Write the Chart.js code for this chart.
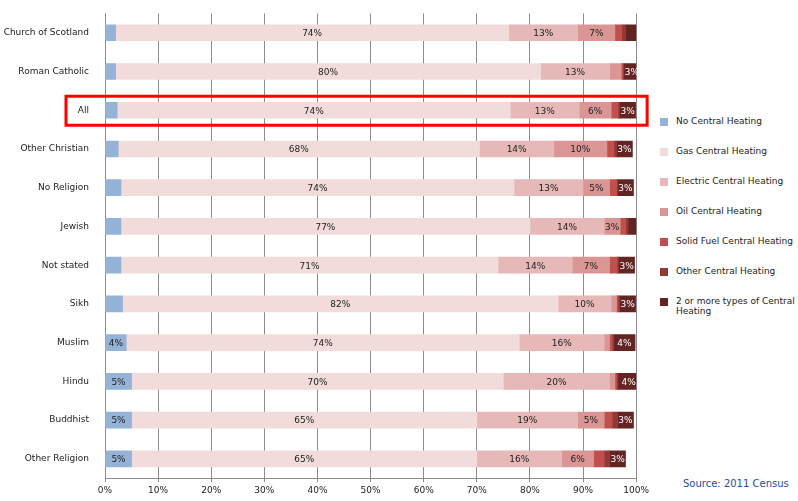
<!DOCTYPE html>
<html>
<head>
<meta charset="utf-8">
<script src="https://cdn.jsdelivr.net/npm/chart.js@4"></script>
<style>
  body { margin: 0; background: #fff; font-family: "DejaVu Sans", sans-serif; }
  #wrap { position: relative; width: 798px; height: 501px; }
  #c { position: absolute; left: 0; top: 0; }
  #legend { position: absolute; left: 660px; top: 116px; font-size: 9px; color: #222; }
  .item { display: flex; align-items: flex-start; height: 30px; }
  .box { width: 8px; height: 8px; margin: 2px 8px 0 0; flex: none; }
  #source { position: absolute; left: 683px; top: 478px; font-size: 10px; color: #1f4e9a; }
</style>
</head>
<body>
<div id="wrap">
  <canvas id="c" width="652" height="501"></canvas>
  <div id="legend"></div>
  <div id="source">Source: 2011 Census</div>
</div>
<script>
// --- dados ---
const categories = ['Church of Scotland', 'Roman Catholic', 'All', 'Other Christian', 'No Religion', 'Jewish',
    'Not stated', 'Sikh', 'Muslim', 'Hindu', 'Buddhist', 'Other Religion'];
const seriesNames = ['No Central Heating', 'Gas Central Heating', 'Electric Central Heating', 'Oil Central Heating',
    'Solid Fuel Central Heating', 'Other Central Heating', '2 or more types of Central Heating'];
const seriesColors = ['#95b3d7', '#f2dcdb', '#e6b9b8', '#d99694', '#c0504d', '#953735', '#632523'];

const noHeating    = [2, 2, 2.3, 2.5, 3, 3, 3, 3.3, 4, 5, 5, 5];
const gasHeating   = [74, 80, 74, 68, 74, 77, 71, 82, 74, 70, 65, 65];
const elecHeating  = [13, 13, 13, 14, 13, 14, 14, 10, 16, 20, 19, 16];
const oilHeating   = [7, 2.2, 6, 10, 5, 3, 7, 1, 1, 1, 5, 6];
const solidHeating = [1.3, 0.3, 1.3, 1.3, 1.3, 1, 1.4, 0.3, 0.5, 0.3, 1.5, 2];
const otherHeating = [0.7, 0.2, 0.3, 0.5, 0.2, 0.5, 0.3, 0.3, 0.3, 0.3, 1, 1];
const multiHeating = [2.2, 3, 3, 3, 3, 2.5, 3, 3, 4, 4, 3, 3];
const seriesValues = [noHeating, gasHeating, elecHeating, oilHeating, solidHeating, otherHeating, multiHeating];
const xTicks = [0, 10, 20, 30, 40, 50, 60, 70, 80, 90, 100];

// legenda em HTML (o último item quebra linha)
document.getElementById('legend').innerHTML = seriesNames.map((n, i) =>
    `<div class="item"><div class="box" style="background:${seriesColors[i]}"></div><div style="width:128px">${n}</div></div>`).join('');

const labelsPlugin = {
    id: 'barLabels',
    afterDatasetsDraw(chart) {
        const ctx = chart.ctx;
        ctx.save();
        ctx.font = '9px "DejaVu Sans"';
        ctx.textAlign = 'center';
        ctx.textBaseline = 'middle';
        chart.data.datasets.forEach((ds, di) => {
            chart.getDatasetMeta(di).data.forEach((bar, i) => {
                const v = ds.data[i];
                const min = di === 0 ? 4 : 2.8;
                if (v < min) return;
                ctx.fillStyle = di === 6 ? '#fff' : '#222';
                ctx.fillText(Math.round(v) + '%', (bar.x + bar.base) / 2, bar.y + 1);
            });
        });
        // caixa vermelha em volta de "All"
        const y = chart.scales.y.getPixelForValue(2);
        const a = chart.chartArea;
        ctx.strokeStyle = '#ff0000';
        ctx.lineWidth = 3;
        ctx.strokeRect(a.left - 39, y - 14, a.right - a.left + 50, 29);
        ctx.restore();
    }
};

new Chart(document.getElementById('c'), {
    type: 'bar',
    data: {
        labels: categories,
        datasets: seriesValues.map((d, i) => ({
            label: seriesNames[i], data: d, backgroundColor: seriesColors[i], barThickness: 16
        }))
    },
    options: {
        indexAxis: 'y', responsive: false, animation: false,
        layout: { padding: { top: 0, right: 12, left: 0, bottom: 2 } },
        plugins: { legend: { display: false }, tooltip: { enabled: false } },
        scales: {
            x: {
                stacked: true, min: 0, max: 100,
                afterBuildTicks: (s) => { s.ticks = xTicks.map(v => ({ value: v })); },
                ticks: { callback: v => v + '%', font: { size: 9, family: 'DejaVu Sans' }, color: '#222' },
                grid: { color: '#8c8c8c', drawTicks: true, tickLength: 4 },
                border: { color: '#8c8c8c' }
            },
            y: {
                stacked: true,
                ticks: { font: { size: 9, family: 'DejaVu Sans' }, color: '#222', padding: 8 },
                grid: { display: false },
                border: { color: '#8c8c8c' },
                afterFit: (s) => { s.width = 105; }
            }
        }
    },
    plugins: [labelsPlugin]
});
</script>
</body>
</html>
